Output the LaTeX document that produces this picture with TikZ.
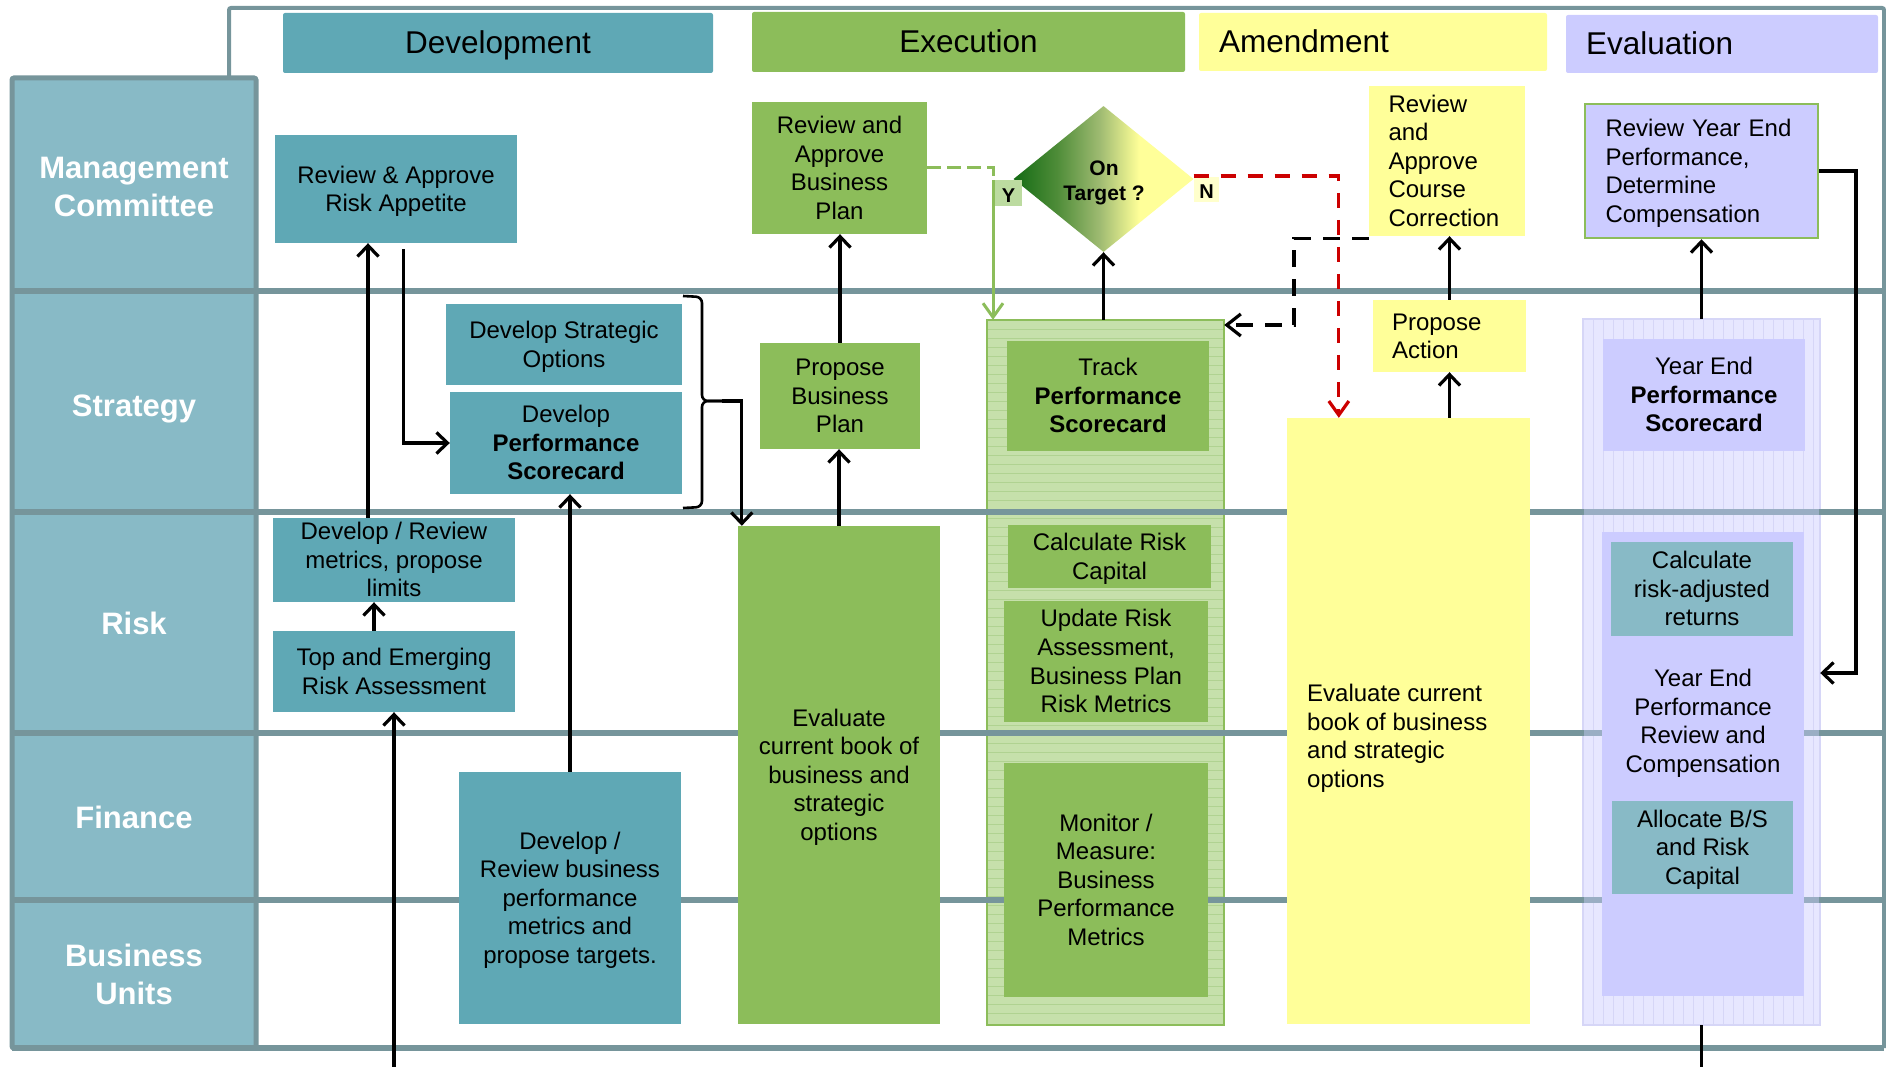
\documentclass[tikz,border=0pt]{standalone}
\usepackage{fontspec}
\setmainfont{Liberation Sans}
\usetikzlibrary{arrows.meta,shapes.geometric}

\definecolor{cLaneLine}{HTML}{76959B}
\definecolor{cLaneHead}{HTML}{88BAC6}
\definecolor{cLaneMix}{HTML}{9AAEC4}
\definecolor{cTeal}{HTML}{5FA8B5}
\definecolor{cGreen}{HTML}{8CBD5A}
\definecolor{cGreenPale}{HTML}{C6E0AB}
\definecolor{cGreenStripe}{HTML}{B0D291}
\definecolor{cGreenTag}{HTML}{BCDBA0}
\definecolor{cYellow}{HTML}{FFFF99}
\definecolor{cYellowPale}{HTML}{FFFFCC}
\definecolor{cLav}{HTML}{CCCCFF}
\definecolor{cLavPale}{HTML}{E7E7FF}
\definecolor{cLavStripe}{HTML}{D6D6F7}
\definecolor{cRed}{HTML}{CC0000}
\definecolor{cShA}{HTML}{146B14}
\definecolor{cShB}{HTML}{4E8C38}
\definecolor{cShC}{HTML}{9FBB72}
\definecolor{cShD}{HTML}{E6EE8E}

% left-to-right fill of the decision diamond
\pgfdeclarehorizontalshading{ontarget}{100bp}{%
  color(0bp)=(cShA); color(25bp)=(cShA); color(37bp)=(cShB);
  color(49bp)=(cShC); color(57bp)=(cShD); color(60bp)=(cYellow);
  color(100bp)=(cYellow)}

% fixed ascent on the first line and descent on the last one, whatever the letters
\newcommand\headstrut{\rule{0pt}{0.905em}}
\newcommand\footstrut{\rule[-0.212em]{0pt}{0.212em}}

% box from its two corners (page pixels, y downwards)
\newcommand\mkbox[7]{%
  \pgfmathsetmacro\mkbw{(#5)-(#3)}%
  \pgfmathsetmacro\mkbh{(#6)-(#4)}%
  \pgfmathsetmacro\mkbx{((#3)+(#5))/2}%
  \pgfmathsetmacro\mkby{((#4)+(#6))/2}%
  \node[#1, minimum width=\mkbw pt, minimum height=\mkbh pt] (#2) at (\mkbx,\mkby) {\headstrut #7};}

\tikzset{
  txt/.style={font=\fontsize{24}{28.6}\selectfont, align=center, inner sep=0pt, text=black,
    execute at end node={\footstrut}},
  tealbox/.style={txt, fill=cTeal},
  greenbox/.style={txt, fill=cGreen},
  yellowbox/.style={txt, fill=cYellow},
  lavbox/.style={txt, fill=cLav},
  lightteal/.style={txt, fill=cLaneHead},
  phase/.style={font=\fontsize{31.5}{36}\selectfont, inner sep=0pt, rounded corners=2pt,
    execute at end node={\footstrut}},
  lanelabel/.style={font=\bfseries\fontsize{31}{38}\selectfont, text=white, align=center, inner sep=0pt,
    execute at end node={\footstrut}},
  lane/.style={draw=cLaneLine, line width=5.5pt},
  tag/.style={font=\bfseries\fontsize{20}{22}\selectfont, inner sep=0pt},
  conn/.style={line width=3.2pt, black},
  arr/.style={conn, -{Straight Barb[length=11pt, width=21pt]}},
  brc/.style={line width=2.6pt, black},
  gdash/.style={line width=3pt, draw=cGreen, dash pattern=on 14pt off 6pt},
  garr/.style={line width=3pt, draw=cGreen, -{Straight Barb[length=14pt, width=20pt]}},
  rarr/.style={line width=3.2pt, draw=cRed, dash pattern=on 15pt off 12pt,
    -{Straight Barb[length=14pt, width=20pt]}},
  karr/.style={line width=3.2pt, black, dash pattern=on 17pt off 12pt,
    -{Straight Barb[length=14pt, width=22pt]}},
}

\begin{document}
\begin{tikzpicture}[x=1pt, y=-1pt]
\useasboundingbox (0,0) rectangle (1886,1067);

% ---- lane header column and outer frame
\draw[fill=cLaneHead, draw=cLaneLine, line width=5pt, rounded corners=2pt] (12,78) rectangle (256,1048);
\draw[draw=cLaneLine, line width=4pt, rounded corners=2pt] (229,78) -- (229,8) -- (1884,8) -- (1884,1048);

% ---- phase headers
\mkbox{phase, fill=cTeal}{phd}{283}{13}{713}{73}{Development}
\mkbox{phase, fill=cGreen}{phe}{752}{12}{1185}{72}{Execution}
\mkbox{phase, fill=cYellow, text width=308pt, align=left}{pha}{1199}{13}{1547}{71}{Amendment}
\mkbox{phase, fill=cLav, text width=272pt, align=left}{phv}{1566}{15}{1878}{73}{Evaluation}

% ---- grouping panels
\mkbox{fill=cGreenPale, inner sep=0pt}{trk}{987}{320}{1224}{1025}{}
\foreach \yy in {329,338,...,1020} \draw[cGreenStripe, line width=1pt] (988,\yy) -- (1223,\yy);
\draw[cGreen, line width=2.5pt] (trk.south west) rectangle (trk.north east);

\mkbox{fill=cLavPale, inner sep=0pt}{lavc}{1583}{319}{1820}{1025}{}
\foreach \xx in {1593,1603,...,1813} \draw[cLavStripe, line width=1pt] (\xx,320) -- (\xx,1024);
\draw[cLavStripe, line width=1.5pt] (lavc.south west) rectangle (lavc.north east);

% ---- lane separators (seen through the evaluation panel where they cross it)
\foreach \ly in {291,512,733,900} \draw[lane] (12,\ly) -- (1884,\ly);
\foreach \ly in {512,733,900} \draw[lane, draw=cLaneMix] (1584,\ly) -- (1819,\ly);
\draw[lane] (12,1048) -- (1884,1048);

% ---- lane labels
\node[lanelabel] (lmc) at (134,187) {\headstrut Management\\Committee};
\node[lanelabel] (lst) at (134,406) {\headstrut Strategy};
\node[lanelabel] (lrk) at (134,624) {\headstrut Risk};
\node[lanelabel] (lfi) at (134,818) {\headstrut Finance};
\node[lanelabel] (lbu) at (134,975) {\headstrut Business\\Units};

% ---- development
\mkbox{tealbox}{rra}{275}{135}{517}{243}{Review \& Approve\\Risk Appetite}
\mkbox{tealbox}{dso}{446}{304}{682}{385}{Develop Strategic\\Options}
\mkbox{tealbox}{dps}{450}{392}{682}{494}{Develop\\\textbf{Performance}\\\textbf{Scorecard}}
\mkbox{tealbox}{dmr}{273}{520}{515}{600}{Develop / Review\\metrics, propose\\limits}
\mkbox{tealbox}{tea}{273}{631}{515}{712}{Top and Emerging\\Risk Assessment}
\mkbox{tealbox}{dbp}{459}{772}{681}{1024}{Develop /\\Review business\\performance\\metrics and\\propose targets.}

% ---- execution
\mkbox{greenbox}{rabp}{752}{102}{927}{234}{Review and\\Approve\\Business\\Plan}
\mkbox{greenbox}{pbp}{760}{343}{920}{449}{Propose\\Business\\Plan}
\mkbox{greenbox}{evx}{738}{526}{940}{1024}{Evaluate\\current book of\\business and\\strategic\\options}
\mkbox{greenbox}{tps}{1007}{341}{1209}{451}{Track\\\textbf{Performance}\\\textbf{Scorecard}}
\mkbox{greenbox}{crc}{1008}{525}{1211}{588}{Calculate Risk\\Capital}
\mkbox{greenbox}{ura}{1004}{601}{1208}{722}{Update Risk\\Assessment,\\Business Plan\\Risk Metrics}
\mkbox{greenbox}{mon}{1004}{763}{1208}{997}{Monitor /\\Measure:\\Business\\Performance\\Metrics}

\node[diamond, shading=ontarget, shade, minimum width=180pt, minimum height=146pt, inner sep=0pt]
  (ontgt) at (1103.5,179) {};
\node[font=\bfseries\fontsize{21}{25}\selectfont, align=center, inner sep=0pt] (ontxt) at (1104,183) {On\\Target ?};
\mkbox{tag, fill=cGreenTag}{ytag}{995}{180}{1022}{206}{Y}
\mkbox{tag, fill=cYellowPale}{ntag}{1194}{177}{1219}{202}{N}

% ---- amendment
\mkbox{yellowbox, text width=117pt, align=left}{acc}{1369}{86}{1525}{236}{Review\\and\\Approve\\Course\\Correction}
\mkbox{yellowbox, text width=115pt, align=left}{pa}{1373}{300}{1526}{372}{Propose\\Action}
\mkbox{yellowbox}{amb}{1287}{418}{1530}{1024}{}
\node[txt, align=left, anchor=west] (amt) at (1307,736) {\headstrut Evaluate current\\book of business\\and strategic\\options};

% ---- evaluation
\mkbox{lavbox, draw=cGreen, line width=2.5pt, text width=192pt, align=left}{rye}{1585}{104}{1818}{238}{Review Year End\\Performance,\\Determine\\Compensation}
\mkbox{lavbox}{yps}{1603}{339}{1805}{451}{Year End\\\textbf{Performance}\\\textbf{Scorecard}}
\mkbox{lavbox}{yin}{1602}{532}{1804}{996}{}
\mkbox{lightteal}{cra}{1611}{542}{1793}{636}{Calculate\\risk-adjusted\\returns}
\node[txt] (yrc) at (1703,721) {\headstrut Year End\\Performance\\Review and\\Compensation};
\mkbox{lightteal}{abs}{1612}{801}{1793}{894}{Allocate B/S\\and Risk\\Capital}

% ---- connector end points
\coordinate (in1) at (394,1067);
\coordinate (out1) at (1701.5,1067);
\coordinate (bracetip) at (722,401);
\coordinate (ycorner) at (993,180);
\coordinate (kturn) at (1294,325);
\coordinate (eturn) at (1856,673);

% ---- development flow
\draw[arr] (in1) -- (tea.south);
\draw[arr] ([xshift=-20pt]tea.north) -- ([xshift=-20pt]dmr.south);
\draw[arr] ([xshift=-26pt]dmr.north) -- ([xshift=-26pt]dmr.north |- rra.south);
\draw[arr] ([xshift=7.5pt, yshift=-6pt]rra.south) |- (dps.west);
\draw[arr] (dbp.north) -- (dbp.north |- dps.south);
\draw[brc, rounded corners=6pt] (683,296) -- (702,297) -- (702,401) -- (bracetip);
\draw[brc, rounded corners=6pt] (bracetip) -- (702,401) -- (702,507) -- (683,508);
\draw[arr] (bracetip) -| ([xshift=4pt]evx.north west);

% ---- execution flow
\draw[arr] (evx.north) -- (evx.north |- pbp.south);
\draw[arr] (pbp.north) -- (pbp.north |- rabp.south);
\draw[gdash] (rabp.east) -| (ycorner);
\draw[garr] (ycorner) -- (ycorner |- trk.north);
\draw[arr] (trk.north -| ontgt.south) -- (ontgt.south);
\draw[karr] ([yshift=-2pt]acc.south west) -| (kturn) -- (kturn -| trk.east);
\draw[rarr] ([yshift=3pt]ontgt.east) -| ([xshift=52pt]amb.north west);

% ---- amendment flow
\draw[arr] (amb.north -| pa.south) -- (pa.south);
\draw[arr] (pa.north) -- (pa.north |- acc.south);

% ---- evaluation flow
\draw[arr] (lavc.north) -- (lavc.north |- rye.south);
\draw[arr] (rye.east) -| (eturn) -- (eturn -| lavc.east);
\draw[conn] (lavc.south) -- (lavc.south |- out1);
\end{tikzpicture}
\end{document}
